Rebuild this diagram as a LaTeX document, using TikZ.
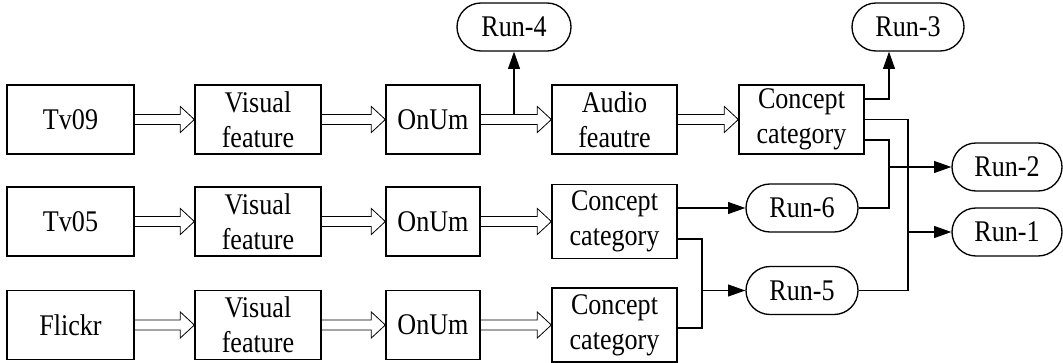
\documentclass[tikz,border=0pt]{standalone}
\usepackage{fontspec}
\setmainfont[FakeStretch=0.87]{Liberation Serif}
\usetikzlibrary{calc,arrows.meta,shapes.misc}
\newcommand\dblarr[2]{\draw[hollow] ($(#1.east)+(0,-5)$) -- ($(#2.west)+(-14,-5)$) -- ($(#2.west)+(-14,-13)$) -- (#2.west) -- ($(#2.west)+(-14,13)$) -- ($(#2.west)+(-14,5)$) -- ($(#1.east)+(0,5)$);}
\begin{document}
\begin{tikzpicture}[x=0.75pt,y=-0.75pt,
  txt/.style={font=\fontsize{22.5}{26}\selectfont},
  box/.style={draw,line width=1pt,minimum width=#1*0.75pt,minimum height=69*0.75pt,inner sep=0pt,align=center,txt},
  box/.default=125,
  tall/.style={minimum height=74*0.75pt},
  run/.style={draw,rounded rectangle,line width=1pt,minimum width=112*0.75pt,minimum height=48*0.75pt,inner sep=0pt,txt},
  hollow/.style={draw,line width=0.6pt},
  line/.style={draw,line width=0.8pt},
  arr/.style={line,-{Triangle[length=13pt,width=9pt]}}]
\useasboundingbox (0,0) rectangle (1063,363);
% row 1
\node[box=127] (src1) at (70.5,119.5) {Tv09};
\node[box=126] (vis1) at (258,119.5) {Visual\\feature};
\node[box=94]  (onum1) at (433,119.5) {OnUm};
\node[box]     (aud) at (614.5,119.5) {Audio\\feautre};
\node[box]     (con1) at (801.5,119.5) {Concept\\category};
% row 2
\node[box=127] (src2) at (70.5,221.5) {Tv05};
\node[box=126] (vis2) at (258,221.5) {Visual\\feature};
\node[box=94]  (onum2) at (433,221.5) {OnUm};
\node[box,tall] (con2) at (614.5,221.5) {Concept\\category};
% row 3
\node[box=127] (src3) at (70.5,325) {Flickr};
\node[box=126] (vis3) at (258,325) {Visual\\feature};
\node[box=94]  (onum3) at (433,325) {OnUm};
\node[box,tall] (con3) at (614.5,325) {Concept\\category};
% runs
\node[run,minimum width=114*0.75pt] (run4) at (514,27) {Run-4};
\node[run] (run3) at (908,27) {Run-3};
\node[run] (run6) at (802,208) {Run-6};
\node[run] (run5) at (802,290.5) {Run-5};
\node[run,minimum width=110*0.75pt] (run2) at (1007,167) {Run-2};
\node[run,minimum width=110*0.75pt] (run1) at (1007,232) {Run-1};
% double arrows
\dblarr{src1}{vis1}\dblarr{vis1}{onum1}\dblarr{onum1}{aud}\dblarr{aud}{con1}
\dblarr{src2}{vis2}\dblarr{vis2}{onum2}\dblarr{onum2}{con2}
\dblarr{src3}{vis3}\dblarr{vis3}{onum3}\dblarr{onum3}{con3}
% run-4
\coordinate (j4) at ($(run4.south |- onum1.east)+(0,-5)$);
\draw[arr] (j4) -- (run4.south);
% connectors from concept 1
\coordinate (bxa) at (889,0);
\coordinate (bxb) at (908,0);
\coordinate (bxc) at (702,0);
\draw[arr] ($(con1.east)+(0,-20.5)$) -| (bxa |- run3.south);
\draw[line] (con1.east) -| (bxb |- run5.east) -- (run5.east);
\draw[line] ($(con1.east)+(0,20.5)$) -| (bxa |- run6.east) -- (run6.east);
\draw[arr] (bxa |- run2.west) -- (run2.west);
\draw[arr] (bxb |- run1.west) -- (run1.west);
% concept 2/3
\draw[arr] (con2.east |- run6.west) -- (run6.west);
\draw[line] ($(con2.east)+(0,17.5)$) -| ($(bxc |- con3.east)+(0,3)$) -- ($(con3.east)+(0,3)$);
\draw[arr] (bxc |- run5.west) -- (run5.west);
\end{tikzpicture}
\end{document}
